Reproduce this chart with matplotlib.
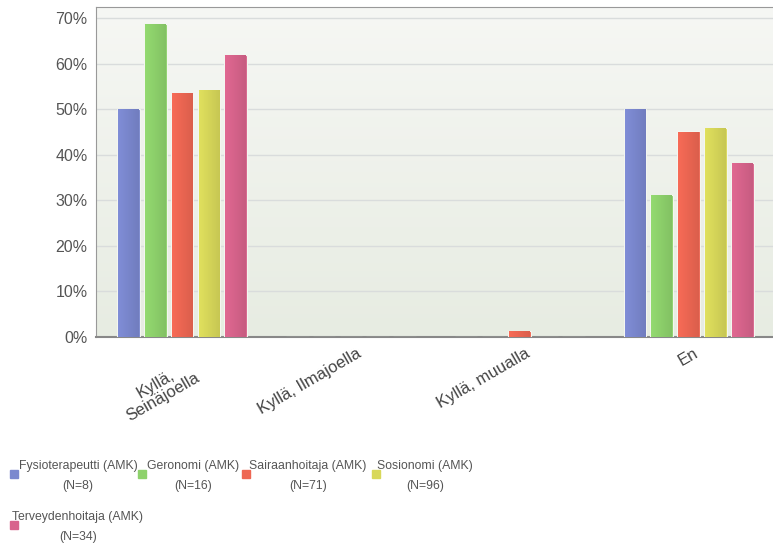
import matplotlib
matplotlib.use('Agg')
import matplotlib.pyplot as plt
import matplotlib.transforms as mtransforms
from matplotlib.colors import LinearSegmentedColormap, to_rgb
from matplotlib.patches import Rectangle
import numpy as np

plt.rcParams['font.family'] = ['Liberation Sans', 'DejaVu Sans']

###############################################################
# data
###############################################################
categories = ['Kyllä,\nSeinäjoella', 'Kyllä, Ilmajoella', 'Kyllä, muualla', 'En']
series_names = ['Fysioterapeutti (AMK)', 'Geronomi (AMK)', 'Sairaanhoitaja (AMK)',
                'Sosionomi (AMK)', 'Terveydenhoitaja (AMK)']
series_n = ['(N=8)', '(N=16)', '(N=71)', '(N=96)', '(N=34)']
fysio = [50.0, 0.0, 0.0, 50.0]
geronomi = [68.75, 0.0, 0.0, 31.25]
sairaanhoitaja = [53.5, 0.0, 1.4, 45.1]
sosionomi = [54.2, 0.0, 0.0, 45.8]
terveydenhoitaja = [61.8, 0.0, 0.0, 38.2]
yticks = [0, 10, 20, 30, 40, 50, 60, 70]

values = [fysio, geronomi, sairaanhoitaja, sosionomi, terveydenhoitaja]
colors = ['#7b88cf', '#8ed26c', '#ee6753', '#d8d85a', '#d8648c']

##################################################
# figure
##################################################
fig = plt.figure(figsize=(7.73, 5.49), dpi=100)
ax = fig.add_axes([96 / 773, 1 - 337 / 549, 677 / 773, 330 / 549])
xmin, xmax, ymax = -0.51, 3.5, 72.4

# background gradient
grad = np.linspace(0, 1, 256).reshape(-1, 1)
bg = LinearSegmentedColormap.from_list('bg', ['#f6f7f4', '#e7ece2'])
ax.imshow(grad, cmap=bg, aspect='auto', extent=[xmin, xmax, 0, ymax],
          origin='upper', zorder=0)

x = np.arange(len(categories))
step = 0.159
width = 0.135
hgrad = np.linspace(0, 1, 64).reshape(1, -1)
for i, (vals, col) in enumerate(zip(values, colors)):
    bars = ax.bar(x + (i - 2) * step, vals, width=width, color=col,
                  edgecolor='#f4f6f0', linewidth=0.8, zorder=3)
    c = np.array(to_rgb(col))
    cm = LinearSegmentedColormap.from_list('b%d' % i,
                                           [np.clip(c * 1.04, 0, 1), c * 0.92])
    for b in bars:
        if b.get_height() <= 0:
            continue
        x0, w, h = b.get_x(), b.get_width(), b.get_height()
        ax.imshow(hgrad, cmap=cm, aspect='auto',
                  extent=[x0 + 0.006, x0 + w - 0.006, 0, h - 0.15], zorder=4)

ax.set_xlim(xmin, xmax)
ax.set_ylim(0, ymax)
ax.set_yticks(yticks)
ax.set_yticklabels(['%d%%' % t for t in yticks], fontsize=11.5, color='#555555')
ax.yaxis.grid(True, color='#d9dcdc', linewidth=1, zorder=1)
ax.set_axisbelow(True)
ax.tick_params(axis='y', length=0, pad=6)
ax.tick_params(axis='x', length=0, pad=6)
ax.set_xticks(x)
labels = ax.set_xticklabels(categories, fontsize=12, color='#444444', rotation=30,
                            ha='right', rotation_mode='anchor',
                            multialignment='center')
labels[0].set_linespacing(1.0)
for k, lab in enumerate(labels):
    dx, dy = (5, -12) if k == 0 else (5, 0)
    lab.set_transform(lab.get_transform() +
                      mtransforms.ScaledTranslation(dx / 100, dy / 100,
                                                    fig.dpi_scale_trans))

ax.spines['right'].set_visible(False)
ax.spines['top'].set_color('#999999')
ax.spines['left'].set_color('#999999')
ax.spines['bottom'].set_color('#888888')
ax.spines['bottom'].set_linewidth(1.5)

##################################################
# legend below the chart
##################################################
W, H = 773.0, 549.0
leg_sq_x = [10, 138, 242, 372, 10]
leg_txt_x = [78, 193, 308, 425, 78]
leg_row_y = [476, 527]
leg_row = [0, 0, 0, 0, 1]
for i in range(len(series_names)):
    yc = leg_row_y[leg_row[i]]
    fig.patches.append(Rectangle((leg_sq_x[i] / W, 1 - (yc + 2) / H), 8 / W, 8 / H,
                                 transform=fig.transFigure, color=colors[i]))
    fig.text(leg_txt_x[i] / W, 1 - yc / H, series_names[i] + '\n' + series_n[i],
             ha='center', va='center', fontsize=8.8, color='#555555',
             linespacing=1.95)

fig.savefig('out.png', dpi=100)
